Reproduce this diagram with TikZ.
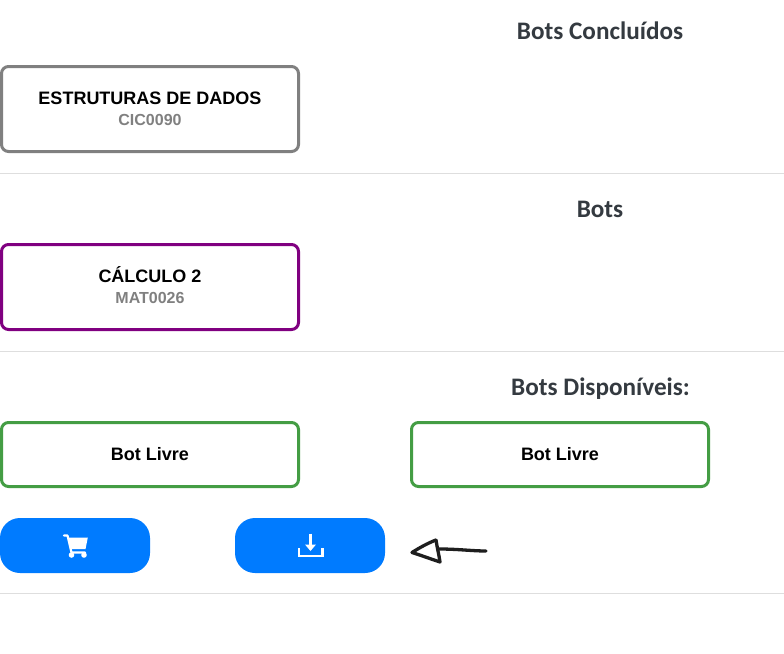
\documentclass[tikz,border=0pt]{standalone}
\usepackage{fontspec}
\setmainfont{Liberation Sans}
\newfontfamily\headfont{Carlito}
\tikzset{
  x=1pt,y=-1pt,
  card/.style={draw=#1,line width=3pt,rounded corners=7pt,fill=white,inner sep=0pt,outer sep=0pt,anchor=north west,minimum width=297pt,align=center},
  heading/.style={font=\headfont\bfseries\fontsize{25.2}{28}\selectfont,text=headcol,inner sep=0pt,anchor=base},
  title/.style={font=\bfseries\fontsize{18}{20}\selectfont,text=black,inner sep=0pt,anchor=base},
  code/.style={font=\bfseries\fontsize{16}{18}\selectfont,text=codecol,inner sep=0pt,anchor=base},
  rule/.style={draw=rulecol,line width=1pt},
  pill/.style={fill=btnblue,rounded corners=20pt,minimum width=150pt,minimum height=55pt,inner sep=0pt,outer sep=0pt,anchor=north west},
  icon/.style={draw=white,line width=2.2pt},
  sketch/.style={draw=sketchcol,line width=3.3pt,line cap=round,line join=round}
}
\definecolor{headcol}{HTML}{343A40}
\definecolor{codecol}{HTML}{808080}
\definecolor{rulecol}{HTML}{DEDEDE}
\definecolor{btnblue}{HTML}{007BFF}
\definecolor{sketchcol}{HTML}{1E1E1E}
\definecolor{cardgray}{HTML}{808080}
\definecolor{cardpurple}{HTML}{800080}
\definecolor{cardgreen}{HTML}{449D44}
\begin{document}
\begin{tikzpicture}
\useasboundingbox (0,0) rectangle (784,653);
\fill[white] (0,0) rectangle (784,653);
% headings
\node[heading] (h1) at (600,39) {Bots Concluídos};
\node[heading] (h2) at (600,217) {Bots};
\node[heading] (h3) at (600.5,395) {Bots Disponíveis:};
% rules
\coordinate (r1a) at (0,173.5); \coordinate (r1b) at (784,173.5);
\coordinate (r2a) at (0,351.5); \coordinate (r2b) at (784,351.5);
\coordinate (r3a) at (0,593.5); \coordinate (r3b) at (784,593.5);
\draw[rule] (r1a) -- (r1b);
\draw[rule] (r2a) -- (r2b);
\draw[rule] (r3a) -- (r3b);
% cards
\node[card=cardgray,minimum height=85pt] (c1) at (1.5,66.5) {};
\node[title] (c1t) at (150,104) {ESTRUTURAS DE DADOS};
\node[code] (c1c) at (150,125) {CIC0090};
\node[card=cardpurple,minimum height=85pt] (c2) at (1.5,244.5) {};
\node[title] (c2t) at (150,282) {CÁLCULO 2};
\node[code] (c2c) at (150,303) {MAT0026};
\node[card=cardgreen,minimum height=64pt] (c3) at (1.5,422.5) {};
\node[title] (c3t) at (150,460) {Bot Livre};
\node[card=cardgreen,minimum height=64pt] (c4) at (411.5,422.5) {};
\node[title] (c4t) at (560,460) {Bot Livre};
% buttons
\node[pill] (b1) at (0,518) {};
\node[pill] (b2) at (235,518) {};
% cart icon
\draw[white,line width=2.2pt,line cap=round,line join=round] (64,535.5) -- (67.5,535.5) -- (71.5,552.5) -- (85,552.5);
\fill[white] (67.5,537.5) -- (87.8,537.5) -- (85.5,549) -- (70.5,549) -- cycle;
\fill[white] (71.5,555) circle (2.8);
\fill[white] (84,555) circle (2.8);
% download icon
\draw[icon] (310.5,533.5) -- (310.5,546);
\fill[white] (305,544.5) -- (316,544.5) -- (310.5,551) -- cycle;
\draw[icon] (299,548) -- (299,556) -- (322.5,556) -- (322.5,548);
% hand-drawn arrow
\draw[sketch] (486,551) .. controls (472,551) and (458,549) .. (439,549);
\draw[sketch] (436,540) .. controls (428,543) and (419,548) .. (412,552.5)
  .. controls (420,555) and (431,559) .. (440,562) .. controls (439,555) and (437,547) .. (436,540);
\end{tikzpicture}
\end{document}
